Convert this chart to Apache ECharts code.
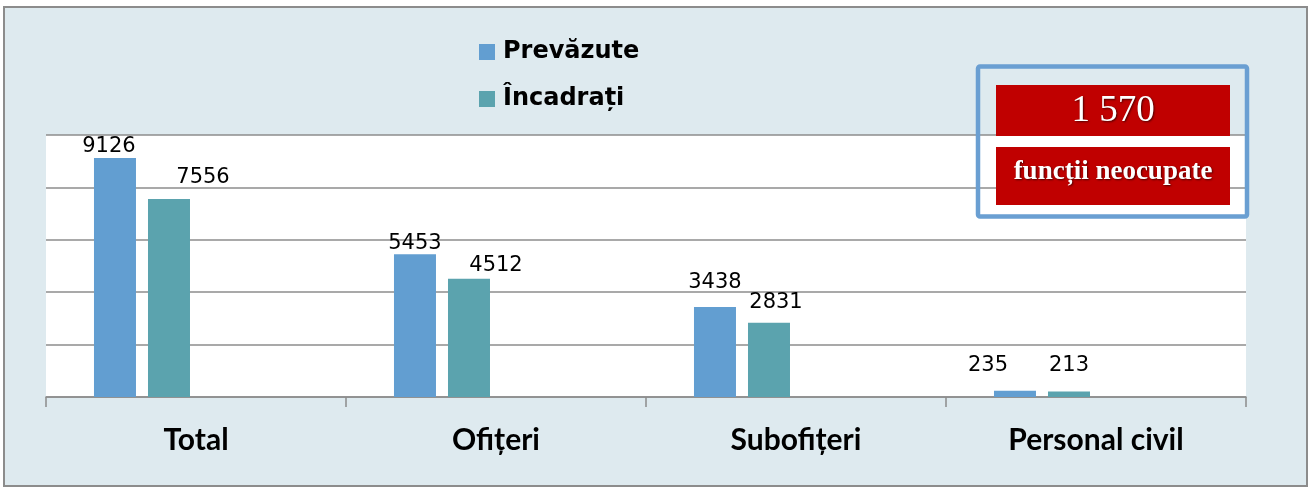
<!DOCTYPE html>
<html>
<head>
<meta charset="utf-8">
<script src="https://cdn.jsdelivr.net/npm/echarts@6/dist/echarts.min.js"></script>
<style>
html,body{margin:0;padding:0;background:#fff;}
#chart{width:1310px;height:487px;}
</style>
</head>
<body>
<div id="chart"></div>
<script>
// ---- data ----
const categories = ['Total', 'Ofițeri', 'Subofițeri', 'Personal civil'];
const seriesNames = ['Prevăzute', 'Încadrați'];
const prevazute = [9126, 5453, 3438, 235];
const incadrati = [7556, 4512, 2831, 213];
const boxLabel = 'funcții neocupate';
const yMin = 0, yMax = 10000, yInterval = 2000;

// unfilled positions (total)
const unfilled = prevazute[0] - incadrati[0];
const unfilledText = String(unfilled).replace(/\B(?=(\d{3})+(?!\d))/g, ' ');

// ---- styles ----
const colBlue = '#629ed1';
const colTeal = '#5ba3ae';
const offP = [[-6, 4], [0, 5], [0, -9], [-27, -10]];
const offI = [[34, -6], [27, 2], [7, -5], [0, -10]];

function mk(vals, offs) {
  return vals.map((v, i) => ({ value: v, label: { offset: offs[i] } }));
}

const labelStyle = {
  show: true, position: 'top', distance: 5,
  fontFamily: 'DejaVu Sans', fontSize: 21, color: '#000'
};

const chart = echarts.init(document.getElementById('chart'), null, { renderer: 'canvas' });
chart.setOption({
  backgroundColor: '#ffffff',
  animation: false,
  grid: { left: 46, right: 64, top: 135, bottom: 90, show: true, backgroundColor: '#ffffff', borderWidth: 0 },
  legend: {
    data: seriesNames,
    orient: 'vertical', left: 479, top: 40, padding: 0,
    itemWidth: 16, itemHeight: 16, itemGap: 23, icon: 'rect',
    textStyle: { fontFamily: 'DejaVu Sans', fontWeight: 'bold', fontSize: 24, color: '#000', padding: [0, 0, 0, 3] }
  },
  xAxis: {
    type: 'category', data: categories,
    axisLine: { show: true, lineStyle: { color: '#8c8c8c', width: 1.5 } },
    axisTick: { show: true, length: 10, lineStyle: { color: '#8c8c8c', width: 1.5 } },
    axisLabel: { margin: 28, fontFamily: 'Lato', fontWeight: 'bold', fontSize: 30, color: '#000' }
  },
  yAxis: {
    type: 'value', min: yMin, max: yMax, interval: yInterval,
    axisLine: { show: false }, axisTick: { show: false }, axisLabel: { show: false },
    splitLine: { show: true, lineStyle: { color: '#8c8c8c', width: 1.5 } }
  },
  series: [
    { name: seriesNames[0], type: 'bar', data: mk(prevazute, offP), barWidth: 42, barGap: '28.6%',
      itemStyle: { color: colBlue }, label: labelStyle },
    { name: seriesNames[1], type: 'bar', data: mk(incadrati, offI), barWidth: 42, barGap: '28.6%',
      itemStyle: { color: colTeal }, label: labelStyle },
    { name: 'gol1', type: 'bar', data: categories.map(() => '-'), barWidth: 42, barGap: '28.6%' },
    { name: 'gol2', type: 'bar', data: categories.map(() => '-'), barWidth: 42, barGap: '28.6%' }
  ],
  graphic: [
    { type: 'rect', z: -100, shape: { x: 4, y: 7, width: 1303, height: 479 },
      style: { fill: '#deeaef', stroke: '#8c8c8c', lineWidth: 2 } },
    { type: 'rect', z: 100, shape: { x: 978, y: 66.5, width: 269, height: 150, r: 2 },
      style: { fill: 'none', stroke: '#6a9fd2', lineWidth: 4.5 } },
    { type: 'rect', z: 101, shape: { x: 996, y: 85, width: 234, height: 51 },
      style: { fill: '#c00000' } },
    { type: 'rect', z: 101, shape: { x: 996, y: 147, width: 234, height: 58 },
      style: { fill: '#c00000' } },
    { type: 'text', z: 102, x: 1113, y: 111,
      style: { text: unfilledText, fill: '#fff', font: '37px "Liberation Serif"', textAlign: 'center', textVerticalAlign: 'middle',
        textShadowColor: 'rgba(0,0,0,0.6)', textShadowBlur: 2, textShadowOffsetX: 1, textShadowOffsetY: 1 } },
    { type: 'text', z: 102, x: 1113, y: 172,
      style: { text: boxLabel, fill: '#fff', font: 'bold 27px "Liberation Serif"', textAlign: 'center', textVerticalAlign: 'middle',
        textShadowColor: 'rgba(0,0,0,0.6)', textShadowBlur: 2, textShadowOffsetX: 1, textShadowOffsetY: 1 } }
  ]
});
</script>
</body>
</html>
